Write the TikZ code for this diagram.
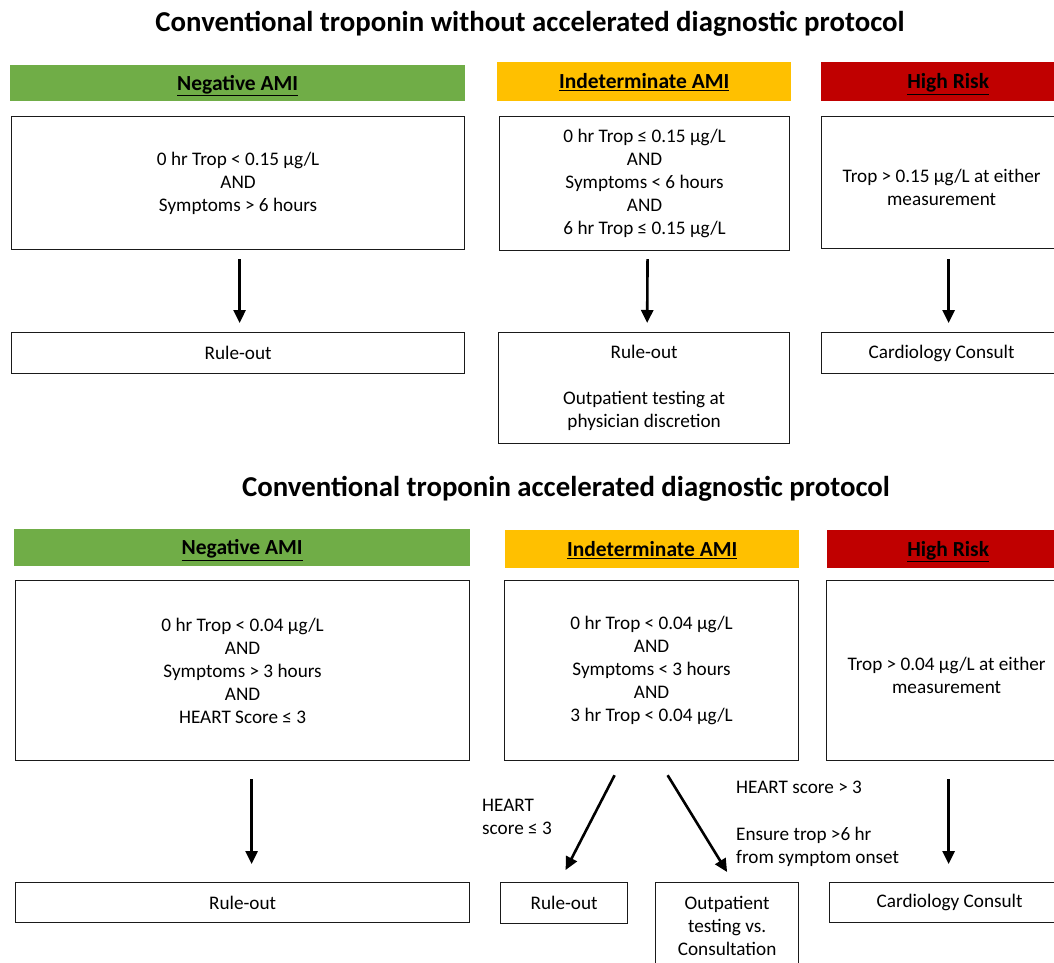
\documentclass[tikz,border=0pt]{standalone}
\usepackage{fontspec}
\setmainfont{Carlito}
\usetikzlibrary{arrows.meta, positioning, calc}
\definecolor{negative}{HTML}{70AD47}
\definecolor{indeterminate}{HTML}{FFC000}
\definecolor{highrisk}{HTML}{C00000}
\definecolor{boxline}{HTML}{1A1A1A}

\begin{document}
\begin{tikzpicture}[
  x=1pt, y=-1pt,
  title/.style={font=\fontsize{28.8}{32}\selectfont\bfseries, inner sep=0pt},
  header/.style={anchor=north west, inner sep=0pt, text depth=1pt,
                 font=\fontsize{21.5}{24}\selectfont\bfseries, align=center},
  box/.style={anchor=north west, draw=boxline, line width=1.2pt, inner sep=0pt,
              font=\fontsize{19.2}{23}\selectfont, align=center},
  note/.style={anchor=north west, inner sep=0pt,
               font=\fontsize{19.2}{23}\selectfont, align=left},
  arr/.style={-{Triangle[length=13pt, width=12pt]}, line width=2.6pt, color=black}
]
  \useasboundingbox (0,0) rectangle (1054,963);
  \clip (0,0) rectangle (1054,963);

  % without accelerated protocol
  \node[title] (title1) at (530,24) {Conventional troponin without accelerated diagnostic protocol};

  \node[header, fill=negative, minimum width=455, minimum height=36] (neg1) at (10,65) {\underline{Negative AMI}};
  \node[header, fill=indeterminate, minimum width=294, minimum height=39] (ind1) at (497,62) {\underline{Indeterminate AMI}};
  \node[header, fill=highrisk, minimum width=254, minimum height=39] (high1) at (821,62) {\underline{High Risk}};

  \node[box, minimum width=453, minimum height=133] (crit1) at (11,116)
    {0 hr Trop < 0.15 µg/L\\AND\\Symptoms > 6 hours};
  \node[box, minimum width=290, minimum height=134] (crit2) at (499,116)
    {0 hr Trop ≤ 0.15 µg/L\\AND\\Symptoms < 6 hours\\AND\\6 hr Trop ≤ 0.15 µg/L};
  \node[box, minimum width=240, minimum height=132] (crit3) at (821,116)
    {\mbox{}\\Trop > 0.15 µg/L at either\\measurement};

  \node[box, minimum width=453, minimum height=41] (out1) at (11,332) {Rule-out};
  \node[box, minimum width=291, minimum height=111] (out2) at (498,332)
    {Rule-out\\[23pt]Outpatient testing at\\physician discretion};
  \node[box, minimum width=240, minimum height=41] (out3) at (821,332) {Cardiology Consult};

  \draw[arr, shorten <=9pt, shorten >=9pt] ([xshift=1.5pt]crit1.south) -- ([xshift=1.5pt]out1.north);
  \draw[arr, shorten <=8pt, shorten >=9pt] ([xshift=3pt]crit2.south) -- ([xshift=3pt]out2.north);
  \draw[arr, shorten <=10pt, shorten >=9pt] ([xshift=7pt]crit3.south) -- ([xshift=7pt]out3.north);

  % accelerated protocol
  \node[title] (title2) at (566,489) {Conventional troponin accelerated diagnostic protocol};

  \node[header, fill=negative, minimum width=456, minimum height=37] (neg2) at (14,529) {\underline{Negative AMI}};
  \node[header, fill=indeterminate, minimum width=294, minimum height=38] (ind2) at (505,530) {\underline{Indeterminate AMI}};
  \node[header, fill=highrisk, minimum width=242, minimum height=38] (high2) at (827,530) {\underline{High Risk}};

  \node[box, minimum width=454, minimum height=180] (crit4) at (15,580)
    {0 hr Trop < 0.04 µg/L\\AND\\Symptoms > 3 hours\\AND\\HEART Score ≤ 3};
  \node[box, minimum width=294, minimum height=180] (crit5) at (504,580)
    {0 hr Trop < 0.04 µg/L\\AND\\Symptoms < 3 hours\\AND\\3 hr Trop < 0.04 µg/L};
  \node[box, minimum width=240, minimum height=180] (crit6) at (826,580)
    {\mbox{}\\Trop > 0.04 µg/L at either\\measurement};

  \node[box, minimum width=454, minimum height=40] (out4) at (15,882) {Rule-out};
  \node[box, minimum width=127, minimum height=41] (rule5) at (500,882) {Rule-out};
  \node[box, minimum width=143, minimum height=86] (outp5) at (655,882)
    {Outpatient\\testing vs.\\Consultation};
  \node[box, minimum width=240, minimum height=40] (out6) at (829,882) {Cardiology Consult};

  \draw[arr, shorten <=18pt, shorten >=18pt] ([xshift=9pt]crit4.south) -- ([xshift=9pt]out4.north);
  \draw[arr] ($(crit5.south)+(-37,14)$) -- ($(rule5.north)+(1.5,-12)$);
  \draw[arr] ($(crit5.south)+(16,14)$) -- ($(outp5.north)+(0,-10)$);
  \draw[arr, shorten <=18pt, shorten >=18pt] ([xshift=2pt]crit6.south) -- ([xshift=-1pt]out6.north);

  \node[note] (lowscore) at (482,799) {HEART\\score ≤ 3};
  \node[note] (highscore) at (736,781) {HEART score > 3};
  \node[note, below=33pt of highscore.south west, anchor=north west] (ensure)
    {Ensure trop >6 hr\\from symptom onset};
\end{tikzpicture}
\end{document}
